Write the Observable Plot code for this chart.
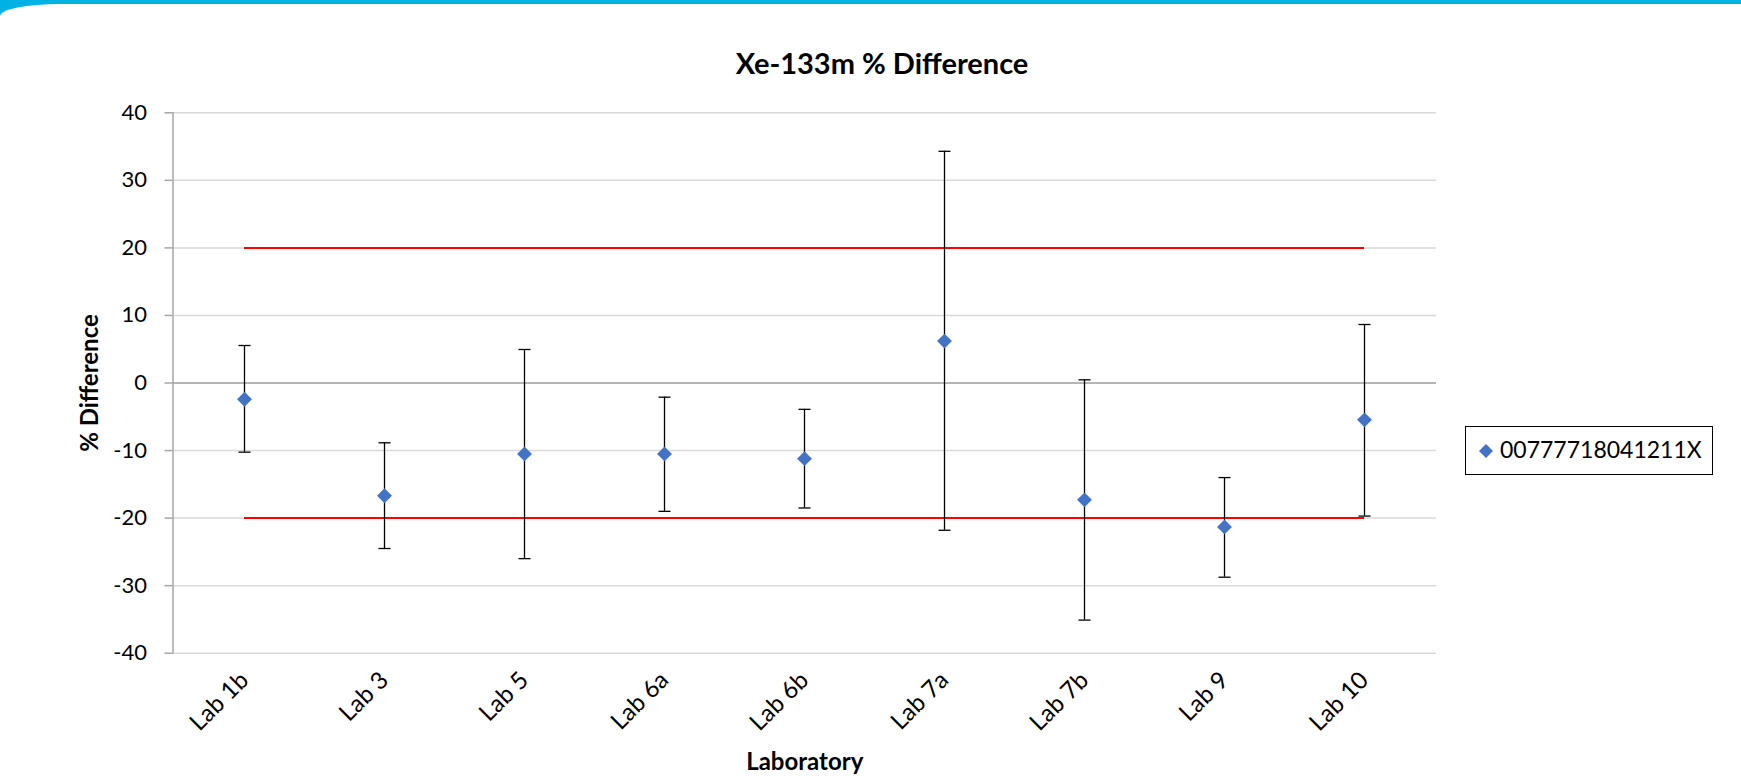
<!DOCTYPE html>
<html>
<head>
<meta charset="utf-8">
<script src="https://cdn.jsdelivr.net/npm/d3@7"></script>
<script src="https://cdn.jsdelivr.net/npm/@observablehq/plot@0.6"></script>
<style>
  html, body { margin: 0; padding: 0; background: #fff; }
  #wrap { position: relative; width: 1741px; height: 776px; overflow: hidden; background: #fff; font-family: Lato, sans-serif; }
  #band { position: absolute; left: 0; top: 0; width: 1741px; height: 18px; background: #00b2e3; }
  #bandCover { position: absolute; left: 0; top: 4px; width: 1741px; height: 30px; background: #fff; border-top-left-radius: 60px 12px; }
  #title { position: absolute; left: 382px; top: 48px; width: 1000px; text-align: center; font: bold 29px/1 Lato, sans-serif; color: #000; }
  #chart { position: absolute; left: 0; top: 90px; }
  #legend { position: absolute; left: 1465px; top: 426px; width: 248px; height: 49px; box-sizing: border-box; border: 1.5px solid #000; }
  #legSym { position: absolute; left: 1479px; top: 444px; }
  #legText { position: absolute; left: 1500px; top: 438px; font: 23px/1 Lato, sans-serif; color: #000; white-space: nowrap; }
  g[aria-label="y-axis label"] text, g[aria-label="x-axis label"] text { font-weight: bold; font-size: 24px; }
  g[aria-label="x-axis tick label"] text { font-size: 24px; }
</style>
</head>
<body>
<div id="wrap">
  <div id="band"></div>
  <div id="bandCover"></div>
  <div id="title"></div>
  <div id="chart"></div>
  <div id="legend"></div>
  <svg id="legSym" width="14" height="14"></svg>
  <div id="legText"></div>
</div>
<script>
// ---- data ----
const titleText = "Xe-133m % Difference";
const seriesName = "00777718041211X";
const labs = ["Lab 1b", "Lab 3", "Lab 5", "Lab 6a", "Lab 6b", "Lab 7a", "Lab 7b", "Lab 9", "Lab 10"];
const diff = [-2.4, -16.7, -10.5, -10.5, -11.2, 6.2, -17.3, -21.3, -5.45];
const upper = [5.55, -8.85, 4.96, -2.1, -3.9, 34.3, 0.47, -14.0, 8.66];
const lower = [-10.24, -24.5, -26.0, -19.0, -18.5, -21.8, -35.1, -28.75, -19.7];
const limits = [20, -20];
const yTicks = [-40, -30, -20, -10, 0, 10, 20, 30, 40];
const xTitle = "Laboratory";
const yTitle = "% Difference";

const data = labs.map((lab, i) => ({lab, diff: diff[i], lo: lower[i], hi: upper[i]}));

const capSymbol = { draw(ctx) { ctx.moveTo(-6, 0); ctx.lineTo(6, 0); } };

document.getElementById("title").textContent = titleText;
document.getElementById("legText").textContent = seriesName;
document.getElementById("legSym").innerHTML = '<path d="M7,0 L14,7 L7,14 L0,7 Z" fill="#4472C4"/>';

const chart = Plot.plot({
  width: 1741,
  height: 686,
  marginTop: 22.3,
  marginBottom: 123.3,
  marginLeft: 172.5,
  marginRight: 305,
  style: {fontFamily: "Lato, sans-serif", fontSize: "22px", color: "#000", background: "transparent", overflow: "visible"},
  x: {type: "point", domain: labs, padding: 0.5},
  y: {domain: [-40, 40]},
  marks: [
    Plot.gridY(yTicks, {stroke: "#d9d9d9", strokeOpacity: 1, strokeWidth: 1.5}),
    Plot.ruleY([0], {stroke: "#a6a6a6", strokeWidth: 1.5}),
    Plot.frame({anchor: "left", stroke: "#a6a6a6", strokeWidth: 1.5}),
    Plot.axisY(yTicks, {tickSize: 8, tickPadding: 18, stroke: "#a6a6a6", strokeWidth: 1.5, tickFormat: d => String(d),
      label: yTitle, labelAnchor: "center", labelOffset: 92, labelArrow: "none"}),
    Plot.axisX({tickRotate: -45, tickSize: 0, tickPadding: 23,
      label: xTitle, labelAnchor: "center", labelOffset: 117, labelArrow: "none"}),
    Plot.ruleY(limits, {y: d => d, x1: () => labs[0], x2: () => labs[labs.length - 1], stroke: "#ff0000", strokeWidth: 2}),
    Plot.ruleX(data, {x: "lab", y1: "lo", y2: "hi", stroke: "#000", strokeWidth: 1.3}),
    Plot.dot(data, {x: "lab", y: "hi", symbol: capSymbol, fill: "none", stroke: "#000", strokeWidth: 1.3}),
    Plot.dot(data, {x: "lab", y: "lo", symbol: capSymbol, fill: "none", stroke: "#000", strokeWidth: 1.3}),
    Plot.dot(data, {x: "lab", y: "diff", symbol: "diamond2", r: 6.7, fill: "#4472C4", stroke: "none"})
  ]
});
document.getElementById("chart").appendChild(chart);
</script>
</body>
</html>
